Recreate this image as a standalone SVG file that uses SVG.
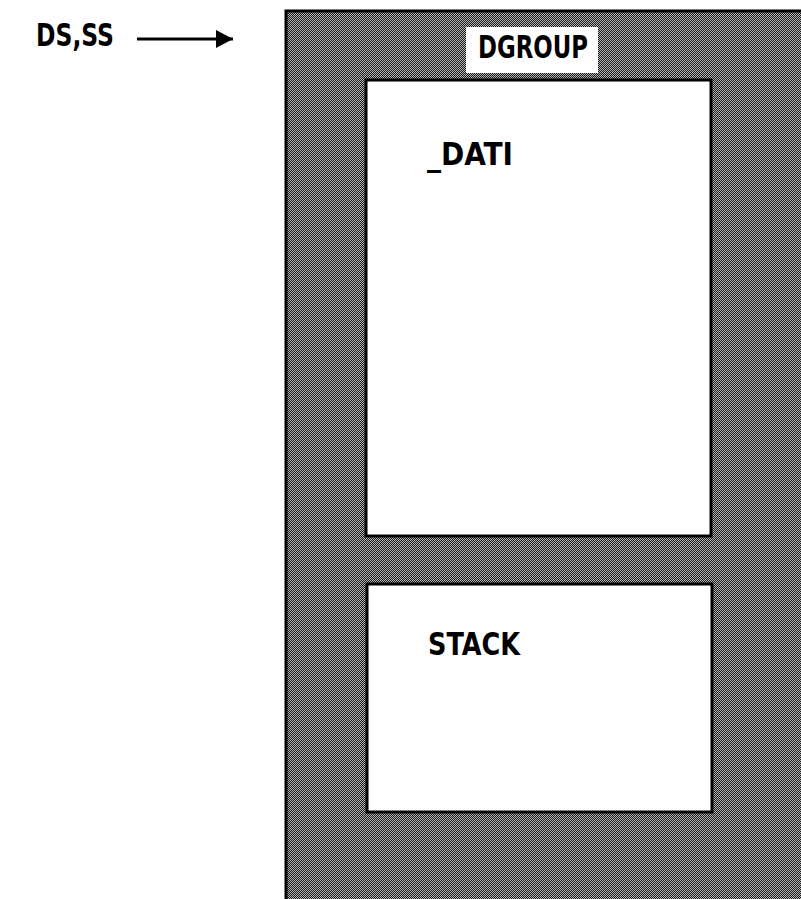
<svg xmlns="http://www.w3.org/2000/svg" width="801" height="899" viewBox="0 0 801 899">
<style>
.lbl{font-family:"Liberation Sans Narrow","DejaVu Sans Condensed","Liberation Sans",Arial,sans-serif;font-weight:bold;font-size:32px;fill:#000}
.box{fill:#fff;stroke:#000;stroke-width:3}
</style>
<defs>
<pattern id="dither" width="2" height="2" patternUnits="userSpaceOnUse">
<rect width="2" height="2" fill="#1a1a1a"/>
<rect x="0" y="0" width="1" height="1" fill="#b4b4b4"/>
<rect x="1" y="1" width="1" height="1" fill="#b4b4b4"/>
</pattern>
<marker id="arrow" markerWidth="18" markerHeight="18" refX="17" refY="9" orient="auto" markerUnits="userSpaceOnUse">
<path d="M0,0 L17,9 L0,18 Z" fill="#000"/>
</marker>
</defs>
<rect width="801" height="899" fill="#fff"/>
<g id="dgroup">
<rect x="286" y="11" width="520" height="893" fill="url(#dither)" stroke="#000" stroke-width="3"/>
<rect x="466" y="27" width="132" height="46" fill="#fff"/>
<text class="lbl" x="478" y="58" textLength="110" lengthAdjust="spacingAndGlyphs">DGROUP</text>
</g>
<g id="dati">
<rect class="box" x="366" y="80" width="345" height="456"/>
<text class="lbl" x="427" y="165" font-size="28" textLength="86" lengthAdjust="spacingAndGlyphs">_DATI</text>
</g>
<g id="stack">
<rect class="box" x="367" y="584" width="345" height="228"/>
<text class="lbl" x="428" y="655" textLength="92" lengthAdjust="spacingAndGlyphs">STACK</text>
</g>
<g id="dsss">
<text class="lbl" x="36" y="46" textLength="78" lengthAdjust="spacingAndGlyphs">DS,SS</text>
</g>
<g id="connectors">
<line x1="137" y1="39" x2="233" y2="39" stroke="#000" stroke-width="3" marker-end="url(#arrow)"/>
</g>
</svg>
